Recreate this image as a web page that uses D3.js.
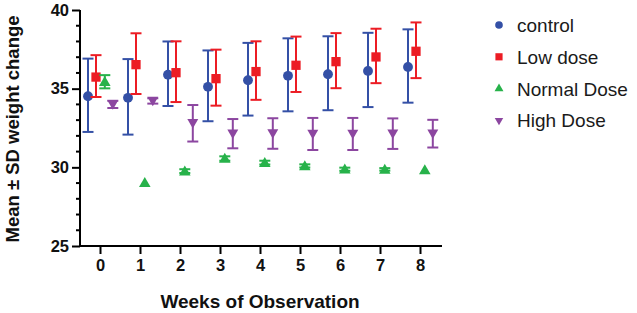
<!DOCTYPE html>
<html><head><meta charset="utf-8">
<script src="https://cdn.jsdelivr.net/npm/d3@7/dist/d3.min.js"></script>
<style>html,body{margin:0;padding:0;background:#fff;}svg{display:block;font-family:"Liberation Sans",Arial,sans-serif;}</style>
</head><body>
<svg id="chart" width="637" height="313"></svg>
<script>
const weeks = [0,1,2,3,4,5,6,7,8];
const seriesNames = ["control","Low dose","Normal Dose","High Dose"];
const controlMean = [34.58,34.48,35.95,35.18,35.60,35.88,35.98,36.19,36.44];
const controlSD   = [2.33,2.40,2.05,2.25,2.31,2.32,2.35,2.36,2.33];
const lowMean     = [35.80,36.59,36.08,35.70,36.15,36.55,36.78,37.08,37.44];
const lowSD       = [1.33,1.93,1.93,1.78,1.86,1.76,1.75,1.73,1.77];
const normalMean  = [35.44,29.02,29.76,30.56,30.30,30.09,29.88,29.87,29.84];
const normalSD    = [0.42,0,0.12,0.14,0.12,0.10,0.10,0.08,0];
const highMean    = [34.00,34.22,32.80,32.14,32.15,32.12,32.12,32.14,32.14];
const highSD      = [0.23,0.17,1.16,0.93,0.97,1.02,1.02,0.97,0.88];
const yTicks = [25,30,35,40];
const colors = ["#3450A6","#EC1C24","#27B24A","#8C46A0"];
const offsets = [-0.3,-0.1,0.12,0.32];

const svg = d3.select("#chart");
const x = d3.scaleLinear().domain([-0.5,8.55]).range([80,442]);
const y = d3.scaleLinear().domain([25,40]).range([246,10]);

const series = [
  {name:seriesNames[0], mean:controlMean, sd:controlSD, sym:d3.symbolCircle, size:76, rot:0},
  {name:seriesNames[1], mean:lowMean, sd:lowSD, sym:d3.symbolSquare, size:86, rot:0},
  {name:seriesNames[2], mean:normalMean, sd:normalSD, sym:d3.symbolTriangle, size:58, rot:0},
  {name:seriesNames[3], mean:highMean, sd:highSD, sym:d3.symbolTriangle, size:52, rot:180}
];

// axes
const yAxis = d3.axisLeft(y).tickValues(yTicks).tickSize(8).tickPadding(3);
const gy = svg.append("g").attr("transform","translate(80,0)").call(yAxis);
gy.select(".domain").attr("stroke","#000").attr("stroke-width",2).attr("d","M0,10V247");
gy.selectAll(".tick line").attr("stroke","#000").attr("stroke-width",2);
gy.selectAll(".tick text").attr("font-size",16.5).attr("font-weight","bold").attr("fill","#111");
const minor = d3.range(25,40.01,1).filter(v=>v%5!==0);
svg.append("g").selectAll("line").data(minor).join("line")
  .attr("x1",76).attr("x2",80).attr("y1",d=>y(d)).attr("y2",d=>y(d))
  .attr("stroke","#000").attr("stroke-width",2);

const xAxis = d3.axisBottom(x).tickValues(weeks).tickSize(8).tickPadding(5).tickFormat(d3.format("d"));
const gx = svg.append("g").attr("transform","translate(0,246)").call(xAxis);
gx.select(".domain").attr("stroke","#000").attr("stroke-width",2).attr("d","M79,0H442");
gx.selectAll(".tick line").attr("stroke","#000").attr("stroke-width",2);
gx.selectAll(".tick text").attr("font-size",16.5).attr("font-weight","bold").attr("fill","#111");

// titles
svg.append("text").attr("x",260).attr("y",308).attr("text-anchor","middle")
  .attr("font-size",19).attr("font-weight","bold").attr("fill","#111").text("Weeks of Observation");
svg.append("text").attr("transform","translate(19,129) rotate(-90)").attr("text-anchor","middle")
  .attr("font-size",18.5).attr("font-weight","bold").attr("fill","#111").text("Mean ± SD weight change");

// data
series.forEach((s,i)=>{
  const g = svg.append("g");
  const data = weeks.map((w,j)=>({w, m:s.mean[j], sd:s.sd[j]}));
  const eb = data.filter(d=>d.sd>0);
  const px = d=>x(d.w+offsets[i]);
  g.selectAll("line.v").data(eb).join("line").attr("class","v")
    .attr("x1",px).attr("x2",px).attr("y1",d=>y(d.m+d.sd)).attr("y2",d=>y(d.m-d.sd))
    .attr("stroke",colors[i]).attr("stroke-width",2);
  g.selectAll("line.t").data(eb).join("line").attr("class","t")
    .attr("x1",d=>px(d)-5.5).attr("x2",d=>px(d)+5.5).attr("y1",d=>y(d.m+d.sd)).attr("y2",d=>y(d.m+d.sd))
    .attr("stroke",colors[i]).attr("stroke-width",2);
  g.selectAll("line.b").data(eb).join("line").attr("class","b")
    .attr("x1",d=>px(d)-5.5).attr("x2",d=>px(d)+5.5).attr("y1",d=>y(d.m-d.sd)).attr("y2",d=>y(d.m-d.sd))
    .attr("stroke",colors[i]).attr("stroke-width",2);
  g.selectAll("path").data(data).join("path")
    .attr("d",d3.symbol().type(s.sym).size(s.size))
    .attr("transform",d=>`translate(${px(d)},${y(d.m)+(s.rot?-1:1)}) rotate(${s.rot})`)
    .attr("fill",colors[i]);
});

// legend
const lg = svg.append("g");
series.forEach((s,i)=>{
  const ly = 25 + i*31.8;
  lg.append("path").attr("d",d3.symbol().type(s.sym).size(s.size*0.6)())
    .attr("transform",`translate(499,${ly}) rotate(${s.rot})`).attr("fill",colors[i]);
  lg.append("text").attr("x",517).attr("y",ly+7).attr("font-size",19).attr("fill","#1a1a1a").text(s.name);
});
</script>
</body></html>
